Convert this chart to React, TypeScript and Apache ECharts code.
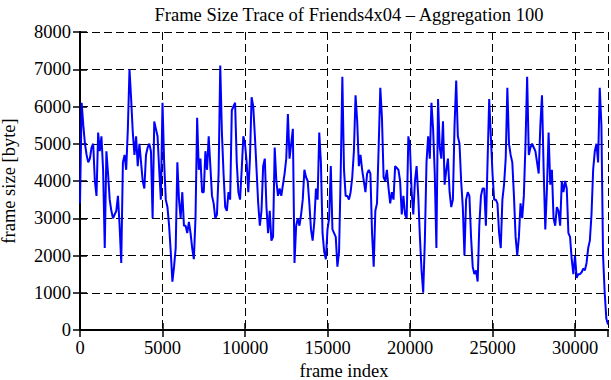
import React, { useEffect, useRef } from "react";
import * as echarts from "echarts";

// Frame size (byte) sampled every 100 frames (aggregation 100)
const FRAME_STEP = 100;
const seg0: number[] = [
  3400, 6100, 5500, 5000, 4700, 4500, 4600, 4900, 5000, 4000,
  3600, 5300, 4800, 5200, 4300, 2200, 4800, 4200, 3500, 3200,
  3000, 3100, 3200, 3600, 2800, 1800, 4500, 4700, 4300, 5400,
  7000, 6200, 5300, 4700, 5200, 4400, 5000, 4500, 4000, 3800,
  4700, 4900, 5000, 4800, 3000, 5600, 5400, 5200, 4300, 3500,
];
const seg1: number[] = [
  6100, 4500, 3500, 3300, 2800, 2100, 1300, 1700, 2200, 4500,
  3500, 3000, 3700, 2800, 2800, 2600, 2900, 2600, 2200, 1900,
  3000, 5700, 4300, 4600, 3700, 3700, 4800, 4300, 5200, 4400,
  3600, 3400, 3000, 3100, 4200, 7100, 5300, 4200, 3300, 3200,
  3700, 3500, 5900, 6000, 6100, 4500, 3700, 3500, 4300, 5200,
];
const seg2: number[] = [
  5000, 4500, 3700, 4600, 6250, 6000, 5200, 4300, 3400, 2800,
  3200, 4400, 4600, 3300, 2600, 3200, 2400, 2500, 4900, 4000,
  3600, 3800, 3600, 3900, 4200, 4600, 5800, 4600, 5000, 5400,
  1800, 2800, 3000, 2800, 3100, 3500, 4300, 4100, 4000, 3400,
  2700, 2400, 2900, 3800, 3500, 5300, 4500, 2600, 2100, 1900,
];
const seg3: number[] = [
  2700, 3000, 4400, 2700, 2600, 2500, 1700, 2100, 4200, 6800,
  4300, 3600, 3600, 3500, 3700, 4100, 4800, 6300, 5600, 4400,
  4700, 4300, 4000, 3700, 4200, 4300, 4200, 2600, 1700, 3200,
  3400, 4900, 6500, 5700, 4100, 4000, 4300, 3800, 3400, 3700,
  3500, 4400, 4350, 4300, 4000, 3100, 3600, 3100, 3000, 5200,
];
const seg4: number[] = [
  4900, 3700, 3100, 4000, 4400, 3600, 2500, 1600, 1000, 2400,
  4500, 5200, 4600, 6100, 5400, 4200, 2200, 6200, 4900, 4600,
  5600, 3900, 4300, 4600, 3700, 3300, 3500, 5500, 6700, 5200,
  5000, 4000, 3300, 2000, 3500, 3700, 3600, 2500, 1700, 1500,
  1600, 1300, 2800, 3600, 3800, 3800, 2800, 4500, 6200, 5200,
];
const seg5: number[] = [
  4200, 3500, 3500, 3400, 2600, 2200, 3500, 3900, 4600, 6500,
  5000, 4700, 4500, 3600, 2500, 2000, 2500, 3400, 3000, 3600,
  5000, 6800, 4700, 4900, 5000, 4900, 4800, 4500, 4200, 5500,
  6300, 4300, 2700, 3800, 5300, 3900, 4300, 3000, 2800, 3300,
  3200, 2800, 4000, 3700, 4000, 3800, 2600, 2500, 1900, 1500,
];
const seg6: number[] = [
  2000, 1400, 1500, 1500, 1550, 1650, 1600, 1800, 2200, 2400,
  3100, 4300, 4800, 5000, 4500, 6500, 5500, 2000, 1000, 300, 150,
];
const frameSizes: number[] = [...seg0, ...seg1, ...seg2, ...seg3, ...seg4, ...seg5, ...seg6];

const xTicks = { min: 0, max: 32000, interval: 5000 };
const yTicks = { min: 0, max: 8000, interval: 1000 };

const TITLE = "Frame Size Trace of Friends4x04 \u2013 Aggregation 100";
const X_NAME = "frame index";
const Y_NAME = "frame size [byte]";

export default function App() {
  const ref = useRef<HTMLDivElement>(null);
  useEffect(() => {
    if (!ref.current) return;
    const chart = echarts.init(ref.current, null, { renderer: "svg" });
    const font = "Liberation Serif";
    const fs = 18.5;
    const data = frameSizes.map((v, i) => [i * FRAME_STEP, v]);
    const axisLine = { show: true, lineStyle: { color: "#000", width: 2 } };
    const tick = { show: true, inside: true, length: 7, lineStyle: { color: "#000", width: 1.5 } };
    const split = { show: true, lineStyle: { color: "#000", width: 1, type: [8, 4] as any } };
    const plain = (v: number) => String(v);
    chart.setOption({
      animation: false,
      backgroundColor: "#fff",
      title: {
        text: TITLE,
        left: 344,
        top: 0,
        textAlign: "center",
        textStyle: { fontFamily: font, fontSize: fs, fontWeight: "normal", color: "#000" },
      },
      grid: {
        left: 80,
        right: 3,
        top: 32,
        bottom: 50,
        containLabel: false,
        outerBoundsMode: "none",
      },
      xAxis: [
        {
          type: "value",
          min: xTicks.min,
          max: xTicks.max,
          interval: xTicks.interval,
          position: "bottom",
          axisLine,
          axisTick: tick,
          splitLine: split,
          axisLabel: {
            fontFamily: font,
            fontSize: fs,
            color: "#000",
            margin: 8,
            showMaxLabel: false,
            formatter: plain,
          },
          name: X_NAME,
          nameLocation: "middle",
          nameGap: 27,
          nameTextStyle: { fontFamily: font, fontSize: fs, color: "#000" },
        },
        {
          type: "value",
          min: xTicks.min,
          max: xTicks.max,
          interval: xTicks.interval,
          position: "top",
          axisLine,
          axisTick: tick,
          splitLine: { show: false },
          axisLabel: { show: false },
        },
      ],
      yAxis: [
        {
          type: "value",
          min: yTicks.min,
          max: yTicks.max,
          interval: yTicks.interval,
          position: "left",
          axisLine,
          axisTick: tick,
          splitLine: split,
          axisLabel: { fontFamily: font, fontSize: fs, color: "#000", margin: 9, formatter: plain },
          name: Y_NAME,
          nameLocation: "middle",
          nameGap: 62,
          nameTextStyle: { fontFamily: font, fontSize: fs, color: "#000" },
        },
        {
          type: "value",
          min: yTicks.min,
          max: yTicks.max,
          interval: yTicks.interval,
          position: "right",
          axisLine,
          axisTick: tick,
          splitLine: { show: false },
          axisLabel: { show: false },
        },
      ],
      series: [
        {
          type: "line",
          data,
          xAxisIndex: 0,
          yAxisIndex: 0,
          showSymbol: false,
          symbol: "none",
          lineStyle: { color: "#0000ff", width: 2 },
          z: 1,
        },
      ],
    });
    return () => chart.dispose();
  }, []);
  return (
    <div
      ref={ref}
      style={{ position: "fixed", left: 0, top: 0, width: 611, height: 380, background: "#fff" }}
    />
  );
}
